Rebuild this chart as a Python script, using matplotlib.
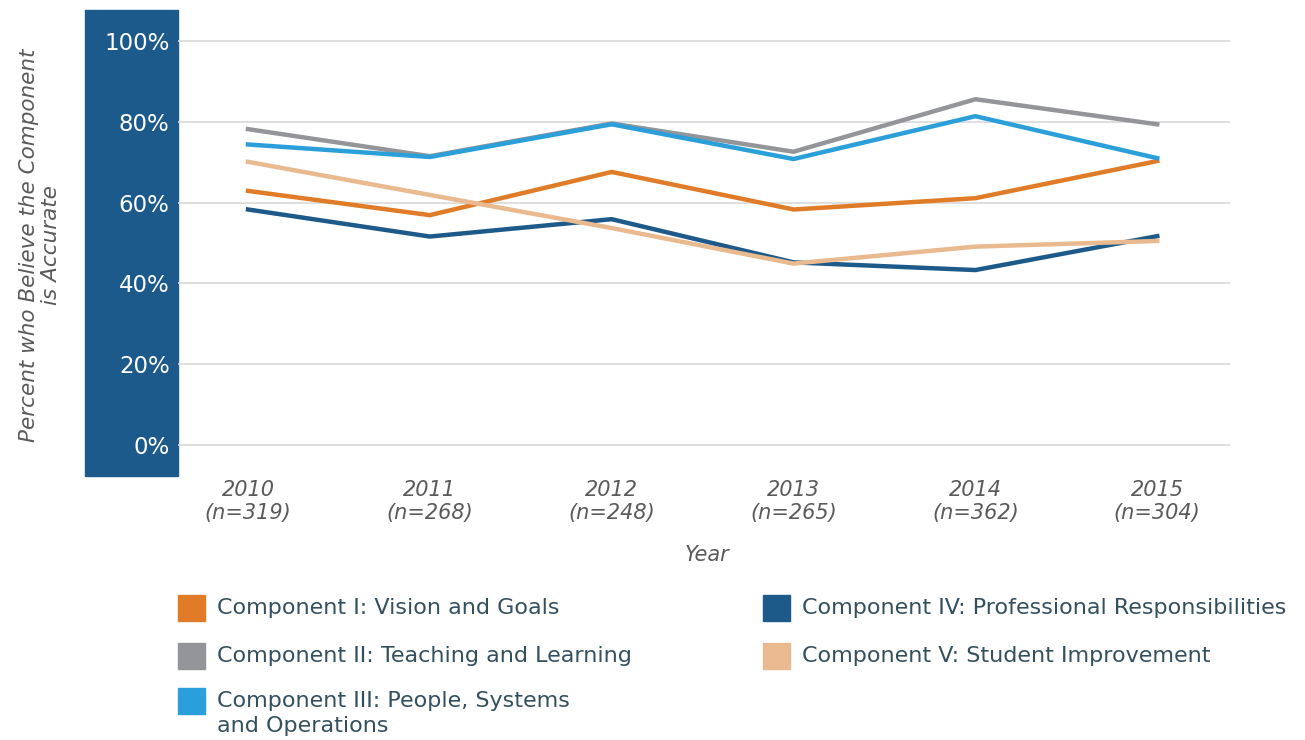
import numpy as np
import matplotlib.pyplot as plt
from matplotlib.patches import Rectangle

plt.rcParams['font.family'] = ['DejaVu Sans']

years = ['2010', '2011', '2012', '2013', '2014', '2015']
n_resp = [319, 268, 248, 265, 362, 304]

comp_1 = [62.9, 56.9, 67.6, 58.3, 61.1, 70.3]
comp_2 = [78.2, 71.5, 79.6, 72.6, 85.6, 79.4]
comp_3 = [74.4, 71.3, 79.4, 70.8, 81.4, 71.0]
comp_4 = [58.3, 51.6, 55.9, 45.2, 43.3, 51.7]
comp_5 = [70.1, 61.9, 53.7, 44.9, 49.1, 50.5]

labels = ['Component I: Vision and Goals',
          'Component II: Teaching and Learning',
          'Component III: People, Systems\nand Operations',
          'Component IV: Professional Responsibilities',
          'Component V: Student Improvement']
colors = ['#e07b27', '#939598', '#2b9fd9', '#1d5a8a', '#e9b98f']
series = [comp_1, comp_2, comp_3, comp_4, comp_5]

W, H = 1305, 740
box_color = '#1d5a8c'
text_gray = '#5a5a5a'
legend_text = '#34505f'


def fx(px):
    return px / W


def fy(py):
    return 1 - py / H


fig = plt.figure(figsize=(W / 100, H / 100), dpi=100)
ax = fig.add_axes([fx(178), fy(476), fx(1230) - fx(178), fy(10) - fy(476)])
ax.set_facecolor('none')

# dark panel behind the y tick labels
fig.add_artist(Rectangle((fx(85), fy(476)), fx(178) - fx(85), fy(10) - fy(476),
                         transform=fig.transFigure, color=box_color, zorder=-1))

x = np.arange(len(years))
draw_order = [3, 4, 0, 2, 1]
for i in draw_order:
    ax.plot(x, series[i], color=colors[i], linewidth=3.2, zorder=3 + i * 0.1)

ax.set_xlim(-0.385, 5.4)
ax.set_ylim(-7.7, 107.7)
ax.set_yticks([0, 20, 40, 60, 80, 100])
ax.set_yticklabels(['{}%'.format(v) for v in [0, 20, 40, 60, 80, 100]],
                   color='white', fontsize=16.5)
ax.tick_params(axis='y', length=0, pad=6)
ax.set_xticks(x)
ax.set_xticklabels(['{}\n(n={})'.format(y, n) for y, n in zip(years, n_resp)],
                   fontsize=15, style='italic', color=text_gray, linespacing=1.2)
ax.tick_params(axis='x', length=0, pad=3)
ax.grid(axis='y', color='#d9d9d9', linewidth=1.2)
ax.set_axisbelow(True)
for s in ax.spines.values():
    s.set_visible(False)

fig.text(fx(707), fy(555), 'Year', ha='center', va='center',
         fontsize=15, style='italic', color=text_gray)
fig.text(fx(40), fy(245), 'Percent who Believe the Component\nis Accurate',
         ha='center', va='center', rotation=90, fontsize=15.5,
         style='italic', color=text_gray, linespacing=1.15)

# legend, two columns
legend_pos = [(178, 608), (178, 656), (178, 701), (763, 608), (763, 656)]
for (px, py), lab, col in zip(legend_pos, labels, colors):
    fig.add_artist(Rectangle((fx(px), fy(py + 13)), fx(27), 26 / H,
                             transform=fig.transFigure, color=col))
    if '\n' in lab:
        fig.text(fx(px + 39), fy(py - 10), lab, ha='left', va='top',
                 fontsize=16, color=legend_text, linespacing=1.3)
    else:
        fig.text(fx(px + 39), fy(py), lab, ha='left', va='center',
                 fontsize=16, color=legend_text)

fig.savefig('out.png', dpi=100)
